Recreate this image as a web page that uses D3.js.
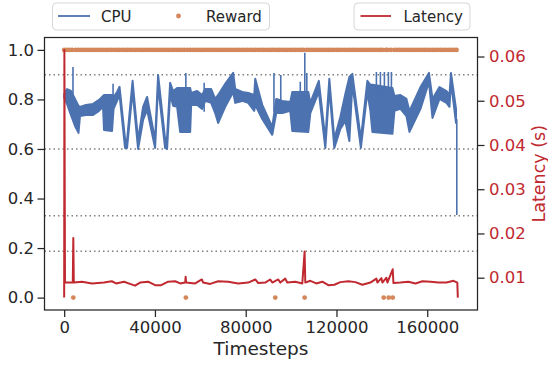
<!DOCTYPE html>
<html>
<head>
<meta charset="utf-8">
<script src="https://cdn.jsdelivr.net/npm/d3@7"></script>
<style>
  body { margin: 0; background: #fff; }
  text { font-family: "DejaVu Sans", sans-serif; }
</style>
</head>
<body>
<svg id="chart" width="548" height="366"></svg>
<script>
// CPU usage: dense oscillation, stored as upper / lower envelope per timestep
const cpuT = [0, 1240, 3000, 4770, 6310, 6970, 9620, 12710, 15360, 17120,
  17560, 21090, 21760, 23300, 24400, 26830, 27710, 30140, 32570, 34770,
  36540, 40070, 41390, 44480, 45360, 46690, 48010, 49780, 51100, 55520,
  55960, 58600, 60810, 62140, 64780, 66550, 67870, 70960, 74490, 75370,
  78460, 81110, 83760, 84200, 87290, 91700, 93470, 96120, 99650, 100530,
  107590, 108470, 112220, 115090, 116850, 119060, 121710, 123910, 125680, 127000,
  130760, 133620, 134950, 135830, 144660, 145540, 148190, 150840, 152160, 157020,
  160760, 162310, 165400, 168490, 169810, 170470, 172680];
const cpuHi = [0.822, 0.842, 0.834, 0.802, 0.774, 0.770, 0.778, 0.782, 0.798, 0.814,
  0.818, 0.818, 0.810, 0.830, 0.851, 0.640, 0.636, 0.875, 0.636, 0.770,
  0.810, 0.636, 0.899, 0.640, 0.648, 0.867, 0.834, 0.846, 0.846, 0.846,
  0.826, 0.834, 0.818, 0.842, 0.842, 0.802, 0.818, 0.863, 0.907, 0.842,
  0.830, 0.826, 0.818, 0.883, 0.778, 0.689, 0.802, 0.794, 0.790, 0.830,
  0.830, 0.786, 0.875, 0.640, 0.883, 0.640, 0.729, 0.822, 0.891, 0.903,
  0.640, 0.875, 0.859, 0.859, 0.846, 0.814, 0.818, 0.802, 0.753, 0.850,
  0.907, 0.802, 0.850, 0.834, 0.818, 0.907, 0.762];
const cpuLo = [0.806, 0.782, 0.737, 0.693, 0.665, 0.733, 0.737, 0.737, 0.754, 0.770,
  0.677, 0.673, 0.762, 0.794, 0.818, 0.604, 0.604, 0.834, 0.600, 0.717,
  0.758, 0.604, 0.855, 0.604, 0.600, 0.822, 0.774, 0.770, 0.669, 0.669,
  0.778, 0.778, 0.762, 0.794, 0.786, 0.745, 0.705, 0.770, 0.830, 0.786,
  0.794, 0.786, 0.754, 0.778, 0.721, 0.657, 0.745, 0.745, 0.754, 0.673,
  0.669, 0.745, 0.830, 0.604, 0.843, 0.604, 0.681, 0.713, 0.632, 0.863,
  0.604, 0.830, 0.754, 0.669, 0.661, 0.754, 0.762, 0.733, 0.669, 0.762,
  0.871, 0.725, 0.802, 0.786, 0.770, 0.871, 0.705];
// isolated CPU spikes (timestep, top, base), last one is the final drop
const spikeT = [3880, 21540, 53620, 61690, 92450, 95450, 104050, 106040, 106930,
  137600, 139360, 141120, 142880, 144210, 173030];
const spikeTop = [0.931, 0.863, 0.907, 0.867, 0.907, 0.899, 0.871, 0.988, 0.907,
  0.911, 0.911, 0.911, 0.911, 0.911, 0.720];
const spikeBase = [0.80, 0.79, 0.83, 0.75, 0.75, 0.75, 0.80, 0.80, 0.80,
  0.82, 0.82, 0.82, 0.82, 0.82, 0.333];

// Reward: 1 at most episode ends, 0 at a few
const rewardOneT = [0, 1200, 2400, 3500, 5100, 6300, 7500, 8700, 9900, 11100,
  12300, 13500, 14700, 15900, 17100, 18300, 19500, 20700, 21900, 23100,
  24300, 25500, 26700, 27900, 29100, 30300, 31500, 32700, 33900, 35100,
  36300, 37500, 38700, 39900, 41100, 42300, 43500, 44700, 45900, 47100,
  48300, 49500, 50700, 51900, 53000, 54300, 55500, 56700, 57900, 59100,
  60300, 61500, 62700, 63900, 65100, 66300, 67500, 68700, 69900, 71100,
  72300, 73500, 74700, 75900, 77100, 78300, 79500, 80700, 81900, 83100,
  84300, 85500, 86700, 87900, 89100, 90300, 91500, 92500, 93800, 94800,
  96000, 97200, 98400, 99600, 100800, 102000, 103200, 104400, 105400, 106800,
  108000, 109200, 110400, 111600, 112800, 114000, 115200, 116400, 117600, 118800,
  120000, 121200, 122400, 123600, 124800, 126000, 127200, 128400, 129600, 130800,
  132000, 133200, 134400, 135600, 136800, 138000, 139200, 140200, 141800, 142400,
  143900, 145500, 146700, 147900, 149100, 150300, 151500, 152700, 153900, 155100,
  156300, 157500, 158700, 159900, 161100, 162300, 163500, 164700, 165900, 167100,
  168300, 169500, 170700, 171900, 172900];
const rewardZeroT = [4020, 53620, 93030, 105960, 140820, 143030, 144790];

// Latency (s)
const latT = [0, 90, 350, 3800, 4020, 4240, 7860, 12270, 17560, 20960,
  22860, 26390, 29040, 31240, 33450, 36980, 40070, 42720, 45810, 48900,
  51120, 53330, 53530, 53750, 57720, 60680, 61250, 64340, 67870, 72290,
  76700, 81110, 84200, 85520, 88610, 90810, 91700, 94350, 95230, 97440,
  98320, 101850, 104940, 105960, 106260, 108470, 111120, 113770, 116420, 119060,
  121710, 125240, 128330, 131420, 134950, 137600, 138040, 139810, 140250, 142010,
  142450, 144790, 145100, 148190, 151720, 154810, 157900, 161430, 164960, 168490,
  171580, 173260, 173480];
const latV = [0.0055, 0.0615, 0.0089, 0.0089, 0.0190, 0.0089, 0.0091, 0.0087, 0.0089, 0.0092,
  0.0087, 0.0091, 0.0086, 0.0082, 0.0089, 0.0091, 0.0083, 0.0083, 0.0091, 0.0092,
  0.0087, 0.0089, 0.0102, 0.0089, 0.0087, 0.0096, 0.0089, 0.0086, 0.0092, 0.0091,
  0.0087, 0.0089, 0.0096, 0.0088, 0.0089, 0.0096, 0.0089, 0.0096, 0.0089, 0.0098,
  0.0089, 0.0091, 0.0087, 0.0159, 0.0089, 0.0093, 0.0087, 0.0091, 0.0083, 0.0084,
  0.0090, 0.0092, 0.0090, 0.0084, 0.0089, 0.0098, 0.0089, 0.0099, 0.0089, 0.0100,
  0.0089, 0.0119, 0.0088, 0.0089, 0.0091, 0.0087, 0.0092, 0.0091, 0.0089, 0.0089,
  0.0093, 0.0089, 0.0055];

// threshold lines (left axis units)
const hlines = [0.9, 0.6, 0.33, 0.187];

const xTicks = [0, 40000, 80000, 120000, 160000];
const yTicks = [0.0, 0.2, 0.4, 0.6, 0.8, 1.0];
const y2Ticks = [0.01, 0.02, 0.03, 0.04, 0.05, 0.06];

const BLUE = '#4c72b0', ORANGE = '#d4875a', RED = '#c0292f', INK = '#262626';
const plot = { left: 44.5, right: 477.5, top: 37.5, bottom: 310 };

const svg = d3.select('#chart');

// matplotlib style 5% margins
const pad = (lo, hi) => [lo - (hi - lo) * 0.05, hi + (hi - lo) * 0.05];
const xMax = d3.max([d3.max(cpuT), d3.max(latT), d3.max(rewardOneT), d3.max(spikeT)]);
const x = d3.scaleLinear().domain(pad(0, xMax)).range([plot.left, plot.right]);
const y = d3.scaleLinear().domain(pad(0, 1)).range([plot.bottom, plot.top]);
const y2 = d3.scaleLinear().domain(pad(d3.min(latV), d3.max(latV))).range([plot.bottom, plot.top]);

const g = svg.append('g');
svg.append('clipPath').attr('id', 'clip')
  .append('rect').attr('x', plot.left).attr('y', plot.top)
  .attr('width', plot.right - plot.left).attr('height', plot.bottom - plot.top);
const inner = g.append('g').attr('clip-path', 'url(#clip)');

// dotted thresholds
inner.selectAll('.hl').data(hlines).enter().append('line')
  .attr('x1', plot.left).attr('x2', plot.right)
  .attr('y1', d => y(d)).attr('y2', d => y(d))
  .attr('stroke', '#808080').attr('stroke-width', 1.5)
  .attr('stroke-dasharray', '1.5,3');

// CPU band
const cpu = cpuT.map((t, i) => ({ t, hi: cpuHi[i], lo: cpuLo[i] }));
inner.append('path').datum(cpu)
  .attr('d', d3.area().x(d => x(d.t)).y0(d => y(d.lo)).y1(d => y(d.hi)))
  .attr('fill', BLUE).attr('stroke', BLUE).attr('stroke-width', 2).attr('stroke-linejoin', 'round');

inner.selectAll('.spike').data(spikeT).enter().append('line')
  .attr('x1', d => x(d)).attr('x2', d => x(d))
  .attr('y1', (d, i) => y(spikeBase[i])).attr('y2', (d, i) => y(spikeTop[i]))
  .attr('stroke', BLUE).attr('stroke-width', 1.6);

// Reward dots
inner.selectAll('.r1').data(rewardOneT).enter().append('circle')
  .attr('cx', d => x(d)).attr('cy', y(1)).attr('r', 2.4).attr('fill', ORANGE);
inner.selectAll('.r0').data(rewardZeroT).enter().append('circle')
  .attr('cx', d => x(d)).attr('cy', y(0)).attr('r', 2.4).attr('fill', ORANGE);

// Latency line (twin axis)
const lat = latT.map((t, i) => ({ t, v: latV[i] }));
inner.append('path').datum(lat)
  .attr('d', d3.line().x(d => x(d.t)).y(d => y2(d.v)))
  .attr('fill', 'none').attr('stroke', RED).attr('stroke-width', 2)
  .attr('stroke-linejoin', 'round');

// axes
function styleAxis(sel, color) {
  sel.select('.domain').remove();
  sel.selectAll('.tick line').attr('stroke', INK).attr('stroke-width', 1.25);
  sel.selectAll('.tick text').attr('fill', color).attr('font-size', '16.5px')
    .attr('font-family', '"DejaVu Sans", sans-serif');
}
g.append('g').attr('transform', `translate(${plot.left},0)`)
  .call(d3.axisLeft(y).tickValues(yTicks).tickFormat(d3.format('.1f')).tickSize(7).tickPadding(3.5))
  .call(s => styleAxis(s, INK));
g.append('g').attr('transform', `translate(${plot.right},0)`)
  .call(d3.axisRight(y2).tickValues(y2Ticks).tickFormat(d3.format('.2f')).tickSize(7).tickPadding(4.5))
  .call(s => styleAxis(s, RED));
g.append('g').attr('transform', `translate(0,${plot.bottom})`)
  .call(d3.axisBottom(x).tickValues(xTicks).tickFormat(d3.format('d')).tickSize(7).tickPadding(4.5))
  .call(s => styleAxis(s, INK));

// frame
g.append('rect').attr('x', plot.left).attr('y', plot.top)
  .attr('width', plot.right - plot.left).attr('height', plot.bottom - plot.top)
  .attr('fill', 'none').attr('stroke', INK).attr('stroke-width', 1.25);

// axis titles
g.append('text').attr('x', (plot.left + plot.right) / 2).attr('y', 355)
  .attr('text-anchor', 'middle').attr('font-size', '18.5px').attr('fill', INK)
  .text('Timesteps');
g.append('text').attr('transform', `translate(539,${(plot.top + plot.bottom) / 2}) rotate(-90)`)
  .attr('text-anchor', 'middle').attr('dy', '0.33em').attr('font-size', '17.5px').attr('fill', RED)
  .text('Latency (s)');

// legends
function legendBox(bx, bw) {
  g.append('rect').attr('x', bx).attr('y', 3).attr('width', bw).attr('height', 27).attr('rx', 4)
    .attr('fill', '#fff').attr('fill-opacity', 0.8).attr('stroke', '#d6d6d6').attr('stroke-width', 1);
}
legendBox(52.5, 217);
legendBox(354, 116);
g.append('line').attr('x1', 58).attr('x2', 90).attr('y1', 16).attr('y2', 16)
  .attr('stroke', BLUE).attr('stroke-width', 1.8);
g.append('text').attr('x', 101).attr('y', 21.5).attr('font-size', '15px').attr('fill', INK).text('CPU');
g.append('circle').attr('cx', 178.5).attr('cy', 16).attr('r', 2.4).attr('fill', ORANGE);
g.append('text').attr('x', 206).attr('y', 21.5).attr('font-size', '15px').attr('fill', INK).text('Reward');
g.append('line').attr('x1', 360.5).attr('x2', 391).attr('y1', 16).attr('y2', 16)
  .attr('stroke', RED).attr('stroke-width', 1.8);
g.append('text').attr('x', 403.5).attr('y', 21.5).attr('font-size', '15px').attr('fill', INK).text('Latency');
</script>
</body>
</html>
